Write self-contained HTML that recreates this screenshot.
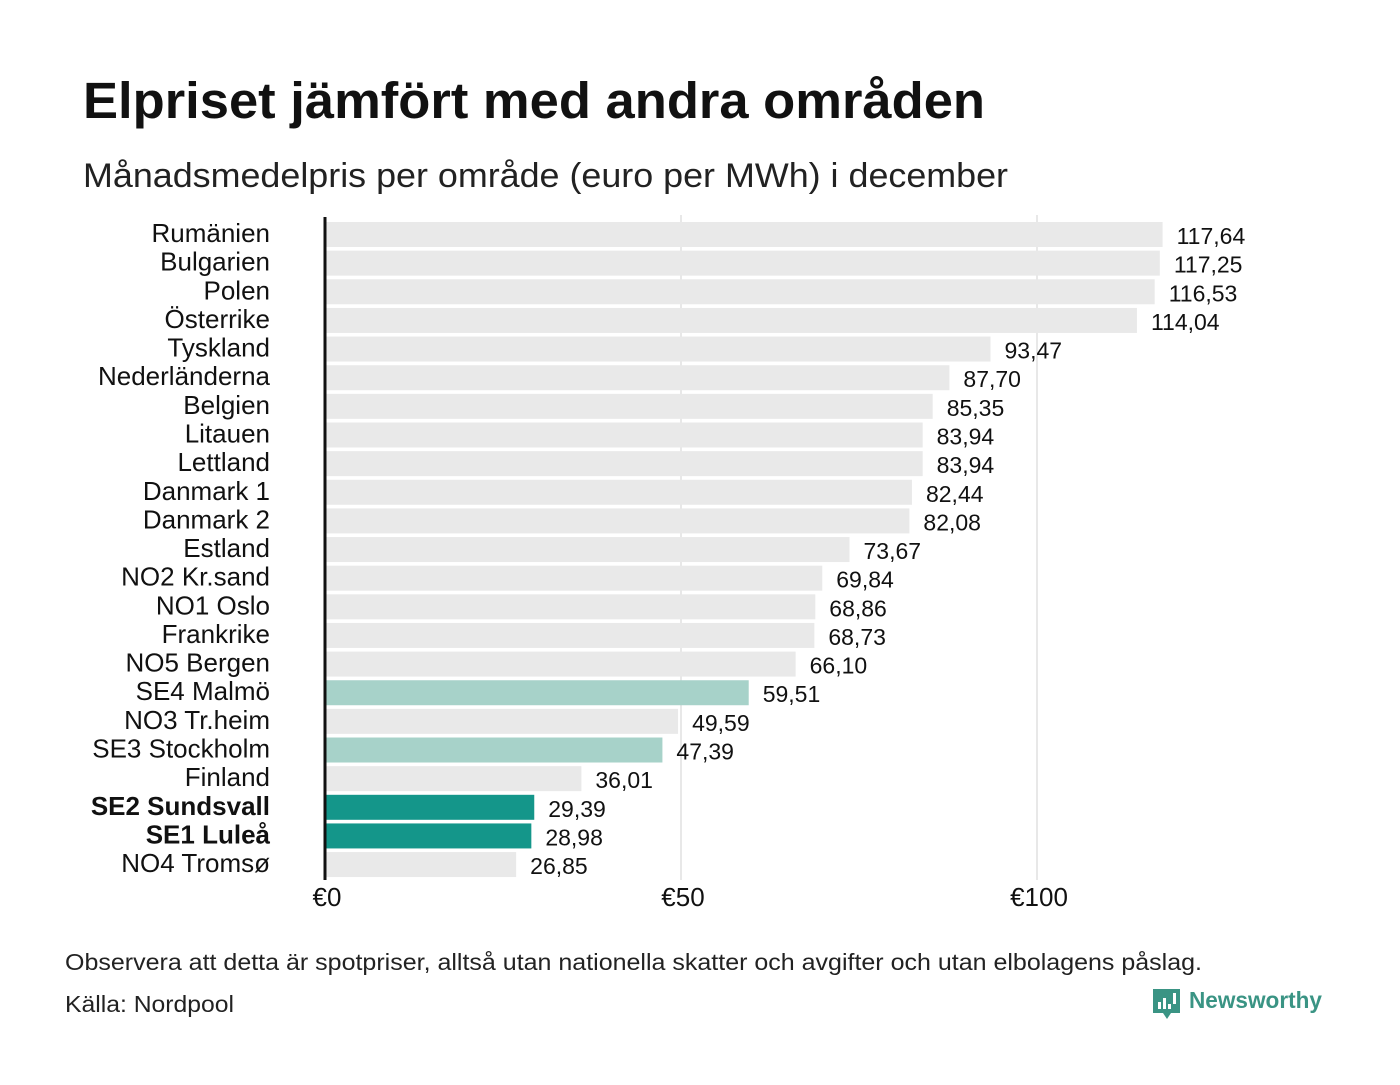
<!DOCTYPE html>
<html><head><meta charset="utf-8"><style>
body{margin:0;background:#fff;width:1400px;height:1080px;overflow:hidden;font-family:"Liberation Sans",sans-serif}
</style></head><body>
<svg id="chart" width="1400" height="1080" xmlns="http://www.w3.org/2000/svg" font-family="Liberation Sans, sans-serif">
<text x="83" y="118" font-size="51" font-weight="bold" fill="#111" textLength="902" lengthAdjust="spacingAndGlyphs">Elpriset jämfört med andra områden</text>
<text x="83" y="187" font-size="34" fill="#222" textLength="925" lengthAdjust="spacingAndGlyphs">Månadsmedelpris per område (euro per MWh) i december</text>
<g id="grid"></g><g id="bars"></g><g id="labels"></g><g id="ticks"></g>
<line x1="325" y1="217" x2="325" y2="880" stroke="#111" stroke-width="3"/>
<text x="65" y="970" font-size="23" fill="#222" textLength="1137" lengthAdjust="spacingAndGlyphs">Observera att detta är spotpriser, alltså utan nationella skatter och avgifter och utan elbolagens påslag.</text>
<text x="65" y="1012" font-size="23" fill="#222" textLength="169" lengthAdjust="spacingAndGlyphs">Källa: Nordpool</text>
<g>
<path d="M1153 989h27v24h-9l-4 6-4-6h-10z" fill="#3a9484"/>
<rect x="1158" y="1002" width="3" height="7" fill="#fff"/><rect x="1163" y="998" width="3" height="11" fill="#fff"/><rect x="1168" y="1004" width="3" height="5" fill="#fff"/><rect x="1173" y="993" width="3" height="11" fill="#fff"/>
<text x="1189" y="1008" font-size="23" font-weight="bold" fill="#3a9484" textLength="133" lengthAdjust="spacingAndGlyphs">Newsworthy</text>
</g>
</svg>
<script>
const categories=["Rumänien","Bulgarien","Polen","Österrike","Tyskland","Nederländerna","Belgien","Litauen","Lettland","Danmark 1","Danmark 2","Estland","NO2 Kr.sand","NO1 Oslo","Frankrike","NO5 Bergen","SE4 Malmö","NO3 Tr.heim","SE3 Stockholm","Finland","SE2 Sundsvall","SE1 Luleå","NO4 Tromsø"];
const values=[117.64,117.25,116.53,114.04,93.47,87.70,85.35,83.94,83.94,82.44,82.08,73.67,69.84,68.86,68.73,66.10,59.51,49.59,47.39,36.01,29.39,28.98,26.85];
const highlight=["","","","","","","","","","","","","","","","","light","","light","","dark","dark",""];
const tickValues=[0,50,100];
const tickLabels=["€0","€50","€100"];
const NS="http://www.w3.org/2000/svg";
const x=v=>325+v*7.12;
const y=i=>222+i*28.64;
function mk(tag,attrs,parent){const e=document.createElementNS(NS,tag);for(const k in attrs)e.setAttribute(k,attrs[k]);parent.appendChild(e);return e;}
const grid=document.getElementById('grid'),bars=document.getElementById('bars'),labels=document.getElementById('labels'),ticks=document.getElementById('ticks');
tickValues.forEach((t,i)=>{
 if(t>0){const g=mk('line',{x1:x(t),x2:x(t),y1:215,y2:880,stroke:'#d0d0d0','stroke-width':1},grid);
 
 }
 const tl=mk('text',{x:x(t)+2,y:906,'font-size':26,'text-anchor':'middle',fill:'#111'},ticks);
 tl.textContent=tickLabels[i];
 
 
});
categories.forEach((c,i)=>{
 const col=highlight[i]==='dark'?'#14968a':highlight[i]==='light'?'#a7d2c9':'#e9e9e9';
 const r=mk('rect',{x:326,y:y(i),width:x(values[i])-326,height:25,fill:col},bars);
 
 
 const l=mk('text',{x:270,y:y(i)+20,'font-size':26,'text-anchor':'end',fill:'#111','font-weight':highlight[i]==='dark'?'bold':'normal'},labels);
 l.textContent=c;
 
 
 const v=mk('text',{x:x(values[i])+14,y:y(i)+22,'font-size':23,fill:'#111'},labels);
 v.textContent=values[i].toFixed(2).replace('.',',');
 
 
});
</script>
</body></html>
